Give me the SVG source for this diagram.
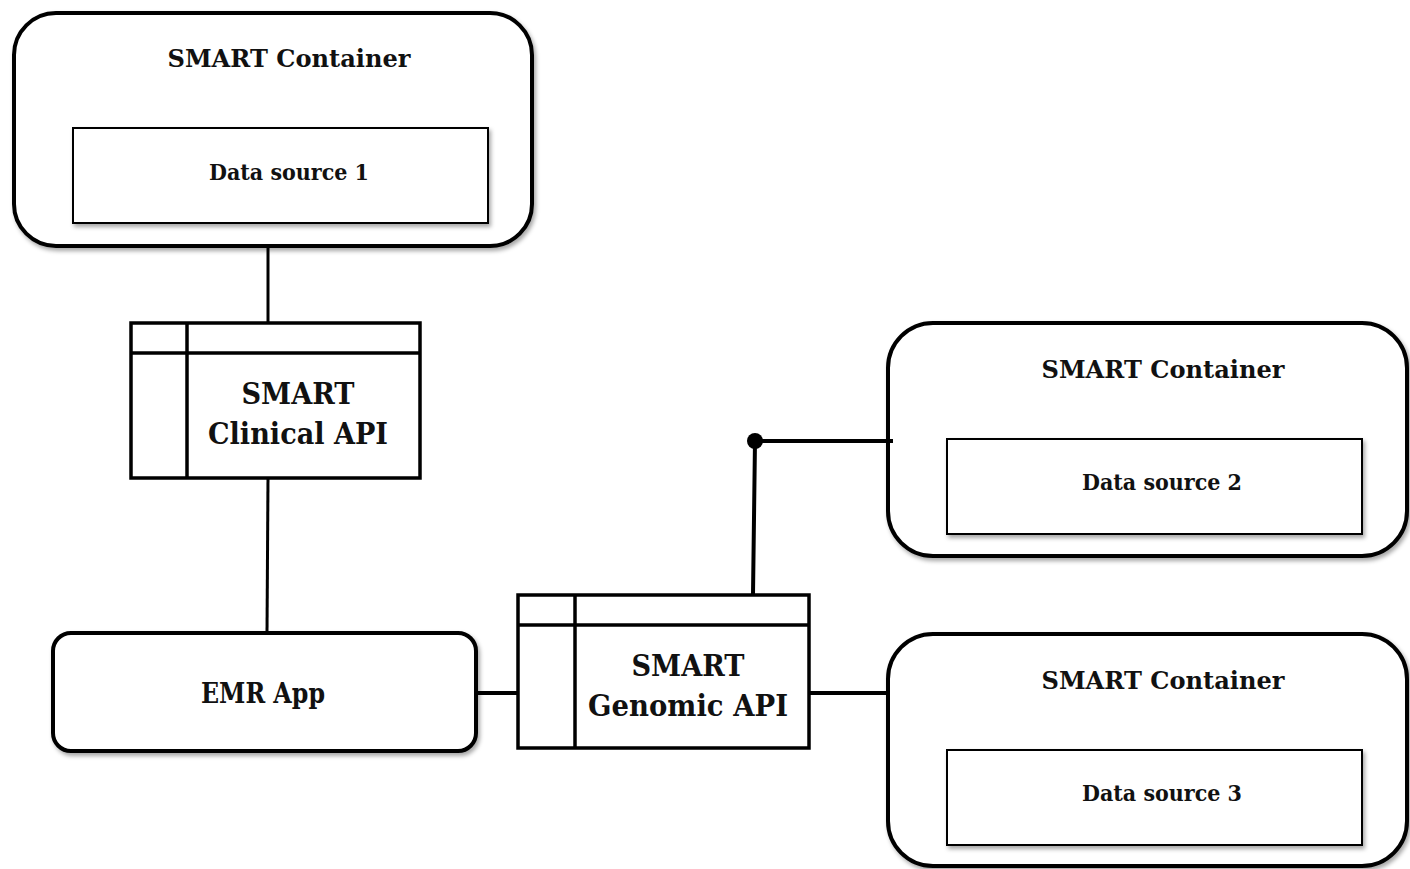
<svg xmlns="http://www.w3.org/2000/svg" width="1410" height="869" viewBox="0 0 1410 869">
<defs>
<filter id="sh" x="-5%" y="-5%" width="110%" height="115%">
<feDropShadow dx="2" dy="3" stdDeviation="2" flood-color="#000" flood-opacity="0.35"/>
</filter>
</defs>
<style>
.cont{fill:#fff;stroke:#000;stroke-width:4;filter:url(#sh)}
.ds{fill:#fff;stroke:#000;stroke-width:2;filter:url(#sh)}
.api{fill:#fff;stroke:#000;stroke-width:3.5}
.div{stroke:#000;stroke-width:3.5}
.t{font-family:"DejaVu Serif","Liberation Serif",serif;font-weight:bold;fill:#111;text-anchor:middle}
.h{font-size:25px}
.s{font-size:23px}
.b{font-size:30px}
.conn{stroke:#000;stroke-width:3;fill:none}
</style>
<rect width="1410" height="869" fill="#fff"/>
<g id="container1">
<rect class="cont" x="14" y="13" width="518" height="233" rx="42"/>
<text class="t h" x="289" y="67" textLength="243" lengthAdjust="spacingAndGlyphs">SMART Container</text>
<rect class="ds" x="73" y="128" width="415" height="95"/>
<text class="t s" x="289" y="180" textLength="160" lengthAdjust="spacingAndGlyphs">Data source 1</text>
</g>
<g id="clinical-api">
<rect class="api" x="131" y="323" width="289" height="155"/>
<line class="div" x1="131" y1="353" x2="420" y2="353"/>
<line class="div" x1="187" y1="323" x2="187" y2="478"/>
<text class="t b" x="298" y="404" textLength="113" lengthAdjust="spacingAndGlyphs">SMART</text>
<text class="t b" x="298" y="444" textLength="180" lengthAdjust="spacingAndGlyphs">Clinical API</text>
</g>
<g id="emr-app">
<rect class="cont" x="53" y="633" width="423" height="118" rx="18"/>
<text class="t b" x="263" y="703" textLength="124" lengthAdjust="spacingAndGlyphs" style="font-size:27px">EMR App</text>
</g>
<g id="genomic-api">
<rect class="api" x="518" y="595" width="291" height="153"/>
<line class="div" x1="518" y1="625" x2="809" y2="625"/>
<line class="div" x1="575" y1="595" x2="575" y2="748"/>
<text class="t b" x="688" y="676" textLength="113" lengthAdjust="spacingAndGlyphs">SMART</text>
<text class="t b" x="688" y="716" textLength="200" lengthAdjust="spacingAndGlyphs">Genomic API</text>
</g>
<g id="container2">
<rect class="cont" x="888" y="323" width="519" height="233" rx="45"/>
<text class="t h" x="1163" y="378" textLength="243" lengthAdjust="spacingAndGlyphs">SMART Container</text>
<rect class="ds" x="947" y="439" width="415" height="95"/>
<text class="t s" x="1162" y="490" textLength="160" lengthAdjust="spacingAndGlyphs">Data source 2</text>
</g>
<g id="container3">
<rect class="cont" x="888" y="634" width="519" height="232" rx="45"/>
<text class="t h" x="1163" y="689" textLength="243" lengthAdjust="spacingAndGlyphs">SMART Container</text>
<rect class="ds" x="947" y="750" width="415" height="95"/>
<text class="t s" x="1162" y="801" textLength="160" lengthAdjust="spacingAndGlyphs">Data source 3</text>
</g>
<g id="connectors">
<line class="conn" x1="268" y1="246" x2="268" y2="323"/>
<line class="conn" x1="268" y1="478" x2="267" y2="633"/>
<line class="conn" x1="476" y1="693" x2="518" y2="693" style="stroke-width:4"/>
<line class="conn" x1="809" y1="693" x2="888" y2="693" style="stroke-width:4"/>
<polyline class="conn" points="753,595 755,441 893,441" style="stroke-width:4"/>
<circle cx="755" cy="441" r="8" fill="#000"/>
</g>
</svg>
